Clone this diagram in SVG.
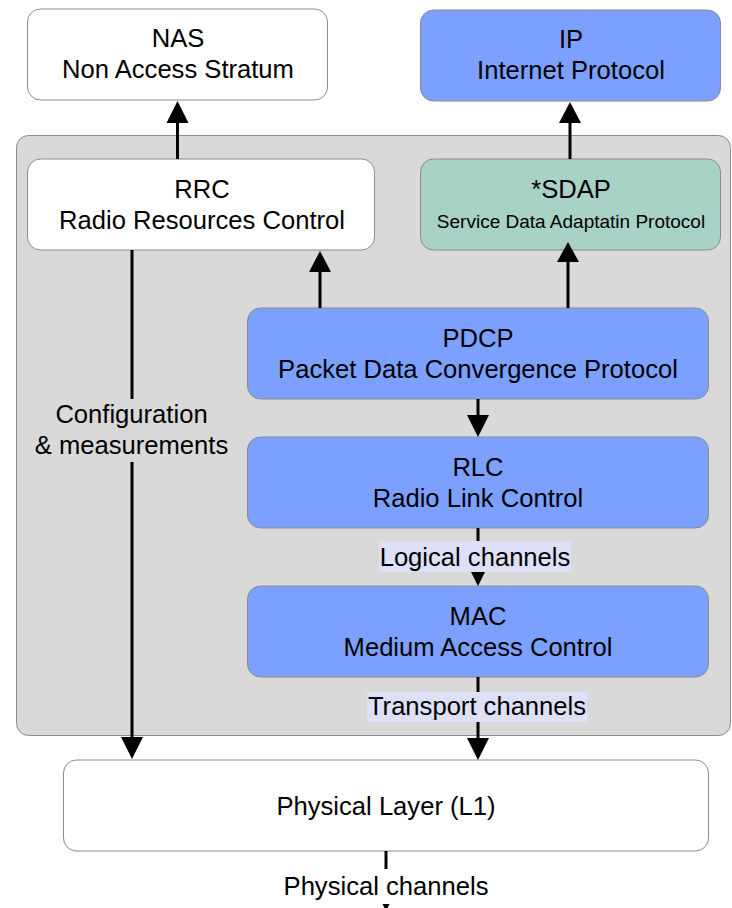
<svg xmlns="http://www.w3.org/2000/svg" width="732" height="908" viewBox="0 0 732 908">
<style>
  .box{stroke:#8c8c8c;stroke-width:1}
  .white{fill:#ffffff}
  .blue{fill:#7ba0ff}
  .teal{fill:#a8d2c6}
  .grey{fill:#d9d9d9}
  text{font-family:"Liberation Sans",Arial,sans-serif;font-size:25.6px;fill:#000;text-anchor:middle}
  .small{font-size:19px}
  .line{stroke:#000;stroke-width:3;fill:none}
  .head{fill:#000}
  .lbl{fill:#dde0f7}
</style>
<rect width="732" height="908" fill="#ffffff"/>
<g id="container">
  <rect class="box grey" x="16.5" y="135.5" width="714" height="600" rx="12"/>
</g>
<g id="nas">
  <rect class="box white" x="27.5" y="9" width="300" height="91" rx="13"/>
  <text x="178" y="47">NAS</text>
  <text x="178" y="78">Non Access Stratum</text>
</g>
<g id="ip">
  <rect class="box blue" x="420.5" y="10" width="300" height="91" rx="13"/>
  <text x="571" y="48">IP</text>
  <text x="571" y="79">Internet Protocol</text>
</g>
<g id="rrc">
  <rect class="box white" x="27.5" y="159" width="347" height="91" rx="13"/>
  <text x="202" y="198">RRC</text>
  <text x="202" y="229">Radio Resources Control</text>
</g>
<g id="sdap">
  <rect class="box teal" x="420.5" y="159" width="300" height="91" rx="13"/>
  <text x="571" y="198">*SDAP</text>
  <text class="small" x="571" y="228">Service Data Adaptatin Protocol</text>
</g>
<g id="pdcp">
  <rect class="box blue" x="247.5" y="308" width="461" height="91" rx="13"/>
  <text x="478" y="347">PDCP</text>
  <text x="478" y="378">Packet Data Convergence Protocol</text>
</g>
<g id="rlc">
  <rect class="box blue" x="247.5" y="437" width="461" height="91" rx="13"/>
  <text x="478" y="476">RLC</text>
  <text x="478" y="507">Radio Link Control</text>
</g>
<g id="mac">
  <rect class="box blue" x="247.5" y="586" width="461" height="91" rx="13"/>
  <text x="478" y="625">MAC</text>
  <text x="478" y="656">Medium Access Control</text>
</g>
<g id="phy">
  <rect class="box white" x="63.5" y="760" width="645" height="91" rx="13"/>
  <text x="386" y="815">Physical Layer (L1)</text>
</g>
<g id="connectors">
  <!-- RRC -> NAS -->
  <line class="line" x1="177.5" y1="159" x2="177.5" y2="122"/>
  <polygon class="head" points="177.5,101 166.5,123 188.5,123"/>
  <!-- SDAP -> IP -->
  <line class="line" x1="570" y1="159" x2="570" y2="122"/>
  <polygon class="head" points="570,102 559,123 581,123"/>
  <!-- PDCP -> RRC -->
  <line class="line" x1="320" y1="308" x2="320" y2="271"/>
  <polygon class="head" points="320,251 309,272 331,272"/>
  <!-- PDCP -> SDAP -->
  <line class="line" x1="568" y1="308" x2="568" y2="261"/>
  <polygon class="head" points="568,242 557,262 579,262"/>
  <!-- PDCP -> RLC -->
  <line class="line" x1="478" y1="399" x2="478" y2="416"/>
  <polygon class="head" points="467,415 489,415 478,437"/>
  <!-- RLC -> MAC -->
  <line class="line" x1="478" y1="528" x2="478" y2="565"/>
  <polygon class="head" points="467,564 489,564 478,586"/>
  <rect class="lbl" x="379" y="541" width="192" height="31"/>
  <text x="475" y="566">Logical channels</text>
  <!-- MAC -> PHY -->
  <line class="line" x1="478" y1="677" x2="478" y2="739"/>
  <polygon class="head" points="467,738 489,738 478,760"/>
  <rect class="lbl" x="367" y="692" width="220" height="30"/>
  <text x="477" y="715">Transport channels</text>
  <!-- RRC -> PHY -->
  <line class="line" x1="132" y1="250" x2="132" y2="738"/>
  <polygon class="head" points="121,737 143,737 132,759"/>
  <rect fill="#d9d9d9" x="34" y="399" width="196" height="63"/>
  <text x="131.5" y="423">Configuration</text>
  <text x="131.5" y="454">&amp; measurements</text>
  <!-- PHY -> Physical channels -->
  <line class="line" x1="386" y1="851" x2="386" y2="890"/>
  <polygon class="head" points="375,889 397,889 386,911"/>
  <rect fill="#ffffff" x="280" y="869" width="212" height="35"/>
  <text x="386" y="895">Physical channels</text>
</g>
</svg>
